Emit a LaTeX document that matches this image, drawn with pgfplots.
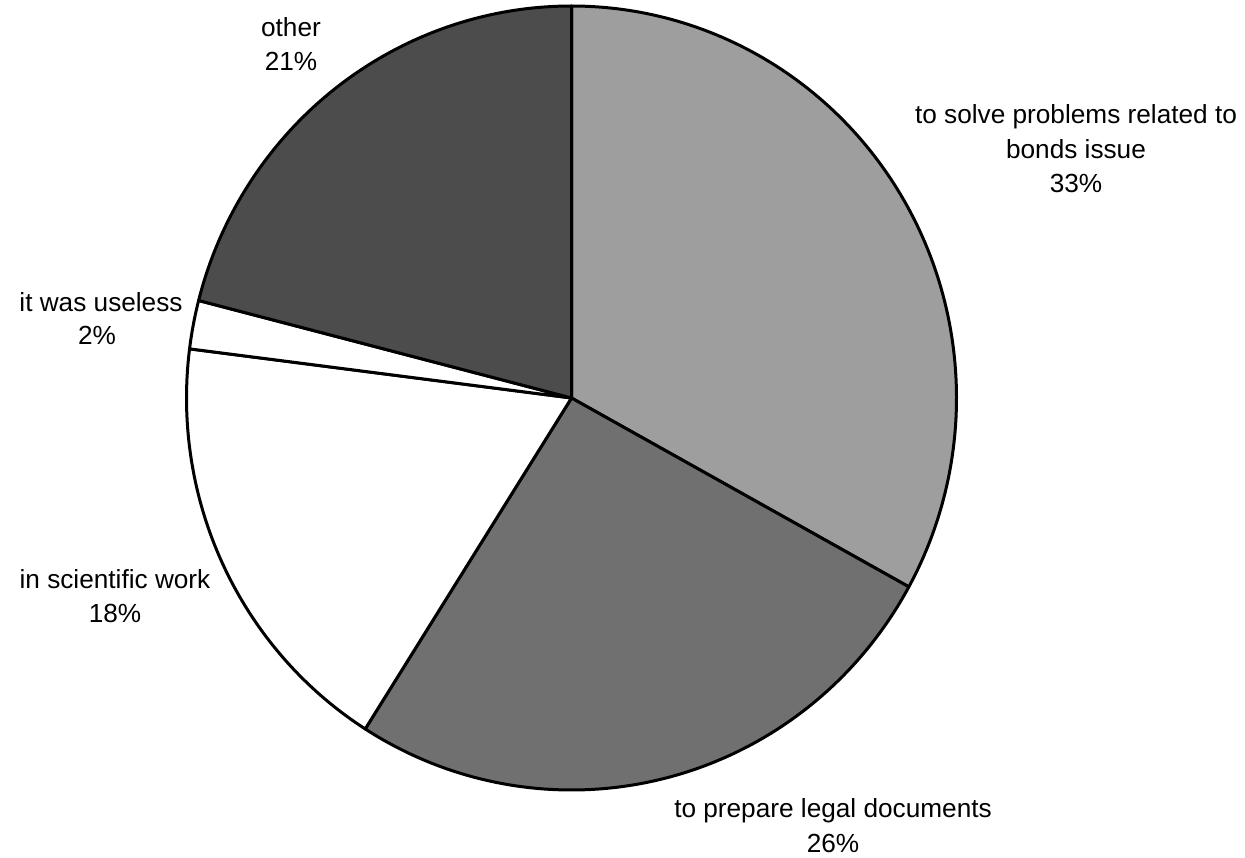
\documentclass[border=0pt]{standalone}
\usepackage{fontspec}
\setmainfont{Liberation Sans}
\usepackage{pgfplots}
\pgfplotsset{compat=1.18}

% shares of answers, in percent, clockwise from the top
\def\vSolve{33}
\def\vLegal{26}
\def\vSci{18}
\def\vUseless{2}
\def\vOther{21}

% pie geometry in picture units (1 unit = 0.5pt)
\def\cx{571.5}
\def\cy{-398}
\def\rx{385}
\def\ry{392}

\tikzset{lbl/.style={font=\fontsize{13.1}{15}\selectfont, anchor=base, inner sep=0pt}}

\begin{document}
\begin{tikzpicture}
\pgfmathsetmacro{\aA}{90}
\pgfmathsetmacro{\aB}{\aA-3.6*\vSolve}
\pgfmathsetmacro{\aC}{\aB-3.6*\vLegal}
\pgfmathsetmacro{\aD}{\aC-3.6*\vSci}
\pgfmathsetmacro{\aE}{\aD-3.6*\vUseless}
\pgfmathsetmacro{\aF}{\aE-3.6*\vOther}
\begin{axis}[
  scale only axis,
  width=622.5pt, height=428.5pt,
  xmin=0, xmax=1245, ymin=-857, ymax=0,
  hide axis, clip=false,
  every axis plot/.append style={draw=black, line width=1.5pt, line join=round, no markers, samples=120},
]
\addplot[fill=black!38, domain=\aB:\aA] ({\cx+\rx*cos(x)},{\cy+\ry*sin(x)}) -- (axis cs:\cx,\cy) -- cycle;
\addplot[fill=black!56, domain=\aC:\aB] ({\cx+\rx*cos(x)},{\cy+\ry*sin(x)}) -- (axis cs:\cx,\cy) -- cycle;
\addplot[fill=white, domain=\aD:\aC] ({\cx+\rx*cos(x)},{\cy+\ry*sin(x)}) -- (axis cs:\cx,\cy) -- cycle;
\addplot[fill=white, samples=20, domain=\aE:\aD] ({\cx+\rx*cos(x)},{\cy+\ry*sin(x)}) -- (axis cs:\cx,\cy) -- cycle;
\addplot[fill=black!70, domain=\aF:\aE] ({\cx+\rx*cos(x)},{\cy+\ry*sin(x)}) -- (axis cs:\cx,\cy) -- cycle;

% slice labels
\node[lbl] at (axis cs:1076,-124) {to solve problems related to};
\node[lbl] at (axis cs:1076,-159) {bonds issue};
\node[lbl] at (axis cs:1076,-193) {\vSolve\%};
\node[lbl] at (axis cs:833,-817) {to prepare legal documents};
\node[lbl] at (axis cs:833,-852) {\vLegal\%};
\node[lbl] at (axis cs:115,-588) {in scientific work};
\node[lbl] at (axis cs:115,-622) {\vSci\%};
\node[lbl] at (axis cs:101,-312) {it was useless};
\node[lbl] at (axis cs:97,-345) {\vUseless\%};
\node[lbl] at (axis cs:291,-37) {other};
\node[lbl] at (axis cs:291,-71) {\vOther\%};

\path (axis cs:0,0) rectangle (axis cs:1245,-857);
\end{axis}
\end{tikzpicture}
\end{document}
